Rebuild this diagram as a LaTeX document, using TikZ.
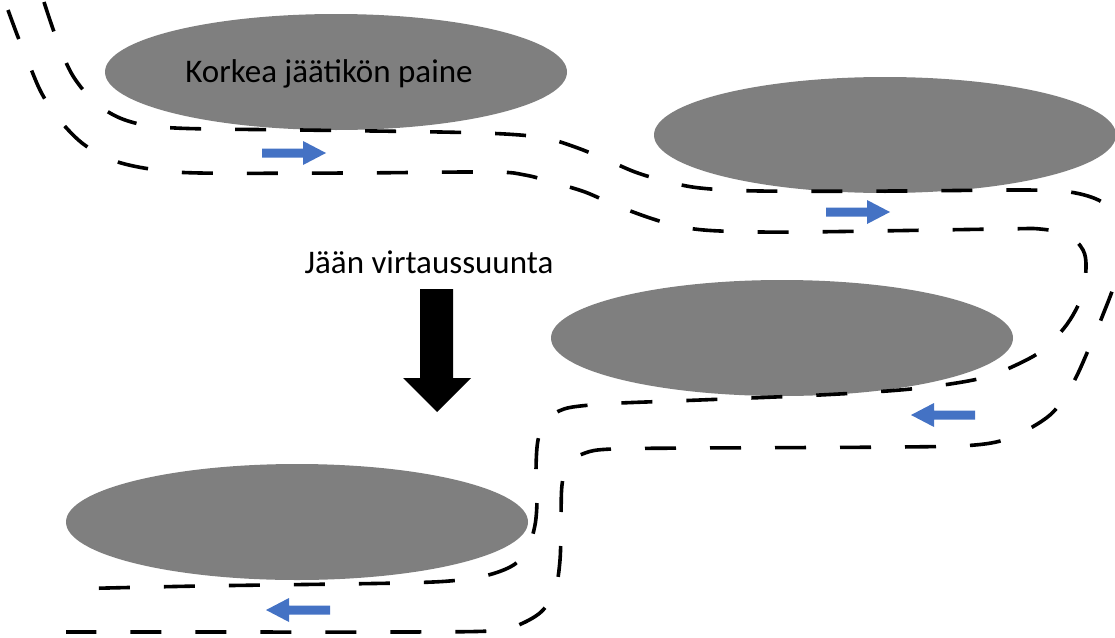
\documentclass[tikz,border=0pt]{standalone}
\usepackage{fontspec}
\setmainfont{Carlito}
\usetikzlibrary{shapes.geometric}
\definecolor{icegray}{RGB}{127,127,127}
\definecolor{flowblue}{RGB}{68,114,196}

\begin{document}
\begin{tikzpicture}[x=1pt,y=-1pt,
  ice/.style={ellipse, fill=icegray, minimum width=462pt, minimum height=116pt, inner sep=0pt},
  channel/.style={line width=3.6pt, dash pattern=on 31pt off 34pt, black, line cap=butt},
  lbl/.style={font=\fontsize{33}{38}\selectfont, anchor=base, inner sep=0pt, text=black},
  flow/.pic={\fill[flowblue] (0,-4.5) -- (41,-4.5) -- (41,-12) -- (64,0) -- (41,12) -- (41,4.5) -- (0,4.5) -- cycle;}
]
\clip (0,0) rectangle (1115,637);

% ice masses
\node[ice] (iceA) at (336,72) {};
\node[ice] (iceB) at (885,135) {};
\node[ice] (iceC) at (782,338) {};
\node[ice] (iceD) at (297,522) {};

\node[lbl] (pressure) at (329,82) {Korkea jäätikön paine};
\node[lbl] (flowdir) at (429,273) {Jään virtaussuunta};

% meltwater channel walls
\draw[channel] plot[smooth, tension=0.55] coordinates {
  (44,2) (57,40) (73,76) (97,104) (128,121) (175,128) (300,130) (440,132)
  (505,134) (545,138) (575,147) (605,159) (635,172) (665,181) (700,188)
  (760,191) (900,191) (1023,190) (1070,192) (1102,202) (1118,222)
  (1122,250) (1114,285) (1104,312) (1090,346) (1072,385) (1050,415)
  (1012,437) (975,445) (900,447) (700,448) (612,449) (585,453) (568,464)
  (562,485) (561,520) (560,560) (555,590) (541,612) (516,626) (490,631)
  (400,632) (200,632) (66,632)};

\draw[channel] plot[smooth, tension=0.55] coordinates {
  (8,10) (18,37) (29,64) (41,92) (57,117) (82,143) (112,160) (150,169)
  (200,173) (350,173) (490,172) (525,175) (555,183) (585,192) (615,205)
  (650,218) (682,227) (720,231) (800,232) (1000,229) (1040,229) (1068,235)
  (1083,250) (1086,268) (1082,295) (1073,315) (1060,333) (1040,352)
  (1014,366) (986,377) (950,384) (900,390) (820,395) (700,400) (620,403)
  (590,405) (564,409) (546,420) (538,440) (536,470) (537,500) (535,525)
  (528,548) (515,564) (492,574) (460,580) (400,583) (200,586) (66,589)};

% flow direction of the meltwater
\pic at (262,153) {flow};
\pic at (826,212) {flow};
\pic[rotate=180] at (975,415) {flow};
\pic[rotate=180] at (330,610) {flow};

% ice flow arrow
\fill[black] (420,289) -- (453,289) -- (453,378) -- (471,378) -- (437,412)
  -- (403,378) -- (420,378) -- cycle;
\end{tikzpicture}
\end{document}
